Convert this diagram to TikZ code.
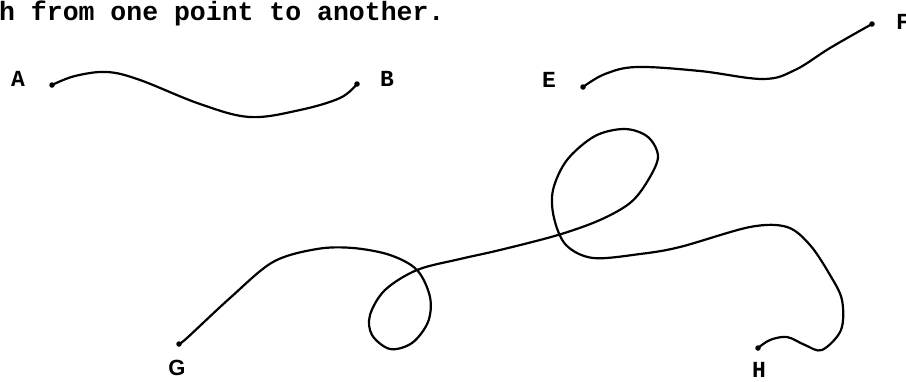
\documentclass[tikz,border=0pt]{standalone}
\usepackage{fontspec}
\setmonofont{Liberation Mono}
\setsansfont{Liberation Sans}
\usetikzlibrary{positioning}

\begin{document}
\begin{tikzpicture}[
      x=1pt, y=-1pt,
      dot/.style={circle, fill=black, minimum size=5.5pt, inner sep=0pt},
      curve/.style={black, line width=2.2pt, line cap=round, line join=round},
      lbl/.style={font=\ttfamily\bfseries\fontsize{23}{23}\selectfont, inner sep=0pt}
  ]
    \useasboundingbox (0,0) rectangle (906,381);
    \node[anchor=base west, inner sep=0pt, font=\ttfamily\bfseries\fontsize{26.5}{26.5}\selectfont] (title) at (-1,20) {h from one point to another.};
    % end points
    \node[dot](a) at (52,85){};
    \node[dot](b) at (357,84){};
    \node[dot](e) at (583,87){};
    \node[dot](f) at (872,24){};
    \node[dot](g) at (179,344){};
    \node[dot](h) at (758,348){};
    \node[lbl](la) at (18,79){A};
    \node[lbl](lb) at (387,79){B};
    \node[lbl](le) at (549,80){E};
    \node[lbl, anchor=west](lf) at (896,22){F};
    \node[lbl, font=\sffamily\bfseries\fontsize{22}{22}\selectfont](lg) at (177,368){G};
    \node[lbl](lh) at (759,370){H};
    % paths
    \draw[curve] plot[smooth, tension=0.6] coordinates {(a) (75,76) (107,72) (140,80) (200,104) (250,117) (300,110) (340,98) (b)};
    \draw[curve] plot[smooth, tension=0.6] coordinates {(e) (605,74) (637,67) (700,71) (763,79) (795,70) (830,48) (f)};
    \draw[curve] plot[smooth, tension=0.55] coordinates {(g) (187,338) (230,298) (273,262) (317,249) (353,248) (390,255) (417,270)
      (430,297) (428,322) (412,343) (390,349) (372,335) (370,315) (385,290) (417,270)
      (460,259) (500,250) (558,235) (600,220) (630,203) (647,182) (658,157) (648,137) (625,129) (595,136)
      (567,160) (553,190) (554,218) (566,245) (593,258) (640,254) (680,247) (750,227) (787,227) (810,245)
      (830,275) (842,300) (841,330) (822,350) (805,345) (787,337) (770,340) (h)};
  \end{tikzpicture}
\end{document}
